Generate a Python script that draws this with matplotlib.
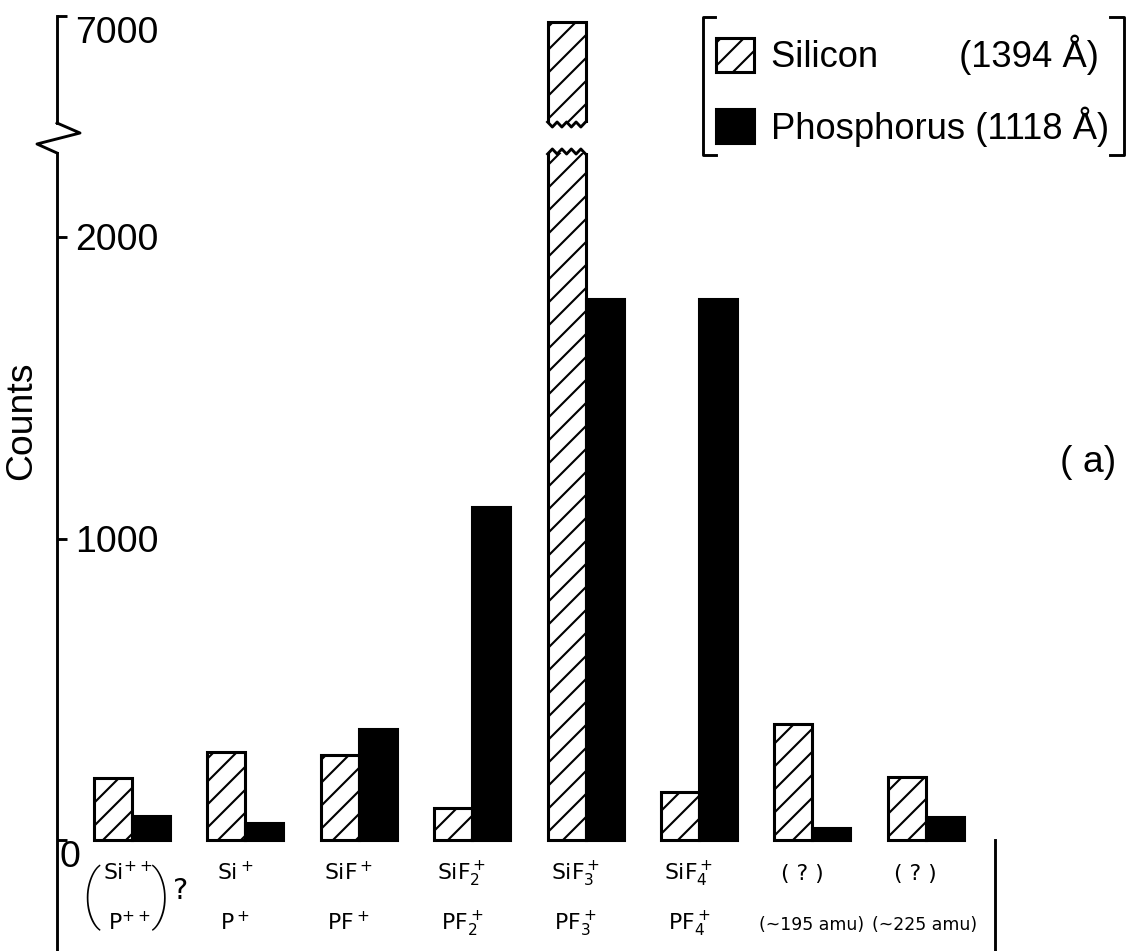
import numpy as np
import matplotlib
matplotlib.use("Agg")
import matplotlib.pyplot as plt
from matplotlib.patches import Patch
from matplotlib.lines import Line2D
from matplotlib import transforms

# ion species for each bar group (silicon row, phosphorus row)
ions_si = [r"Si$^{++}$", r"Si$^+$", r"SiF$^+$", r"SiF$_2^+$", r"SiF$_3^+$",
           r"SiF$_4^+$", "( ? )", "( ? )"]
ions_p = [r"P$^{++}$", r"P$^+$", r"PF$^+$", r"PF$_2^+$", r"PF$_3^+$",
          r"PF$_4^+$", "(~195 amu)", "(~225 amu)"]

# counts
silicon = [206, 292, 282, 106, 6980, 159, 385, 209]
phosphorus = [80, 56, 368, 1104, 1794, 1794, 40, 76]

low_ticks = [0, 1000, 2000]
high_ticks = [7000]

DPI = 138
W, H = 1127, 951
BIG = ["Liberation Sans", "DejaVu Sans"]
plt.rcParams["hatch.linewidth"] = 1.1


def px(x0, y0, x1, y1):
    return [x0 / W, 1 - y1 / H, (x1 - x0) / W, (y1 - y0) / H]


def fpt(x, y):
    return x / W, 1 - y / H


fig = plt.figure(figsize=(W / DPI, H / DPI), dpi=DPI)
ax_hi = fig.add_axes(px(57, 16, 995, 123))
ax = fig.add_axes(px(57, 153, 995, 951))

scale = 0.3015  # pixels per count
ax.set_ylim(-(951 - 840) / scale, (840 - 153) / scale)
ax_hi.set_ylim(7000 - (123 - 16) / scale, 7000)

x = np.arange(len(silicon))
w = 0.335
for a in (ax, ax_hi):
    a.bar(x - w / 2, silicon, w, facecolor="white", edgecolor="black",
          hatch="//", linewidth=1.6)
    a.bar(x + w / 2, phosphorus, w, color="black", edgecolor="black",
          linewidth=1.6)
    a.set_xlim(-0.661, 7.61)
    a.set_xticks([])
    a.tick_params(axis="y", direction="in", length=5.2, width=1.5,
                  pad=-9.4, labelsize=19.5)
    for s in ("top", "bottom", "right"):
        a.spines[s].set_visible(False)
    a.spines["left"].set_linewidth(1.5)

ax.spines["right"].set_visible(True)
ax.spines["right"].set_linewidth(1.5)
ax.spines["right"].set_bounds(ax.get_ylim()[0], 0)

ax.set_yticks(low_ticks)
ax_hi.set_yticks(high_ticks)
for a in (ax, ax_hi):
    for lbl in a.get_yticklabels():
        lbl.set_horizontalalignment("left")
        lbl.set_family(BIG)
ax.get_yticklabels()[0].set_verticalalignment("top")
ax_hi.get_yticklabels()[0].set_verticalalignment("top")
# the zero sits tucked against the spine, below its tick
ax.yaxis.get_major_ticks()[0].set_pad(-1.2)

ax.set_ylabel("Counts", fontsize=19.5, family=BIG)
ax.yaxis.set_label_coords(-0.019, 0.664)

# broken axis zigzag on the spine
zx = [57, 80, 37, 57]
zy = [123, 133, 144, 153]
fig.add_artist(Line2D([v / W for v in zx], [1 - v / H for v in zy],
                      color="black", lw=1.5, transform=fig.transFigure))

# jagged ends on the broken bar
k = int(np.argmax(silicon))
teeth = np.linspace(k - w, k, 9)
tr = transforms.blended_transform_factory(ax.transData, fig.transFigure)
amp = np.tile([0, 5], 5)[:9]
for yb, sgn in ((122, 1), (154, -1)):
    ax.add_line(Line2D(teeth, 1 - (yb + sgn * amp) / H, color="black", lw=1.5,
                       transform=tr, clip_on=False))

# category labels under each group
y1, y2 = -133, -299
for i in range(1, len(ions_si)):
    small = i >= 6
    ax.text(i - 0.09, y1, ions_si[i], ha="center", va="baseline",
            fontsize=11.5, clip_on=False)
    ax.text(i - 0.09 + (0.08 if small else 0), y2, ions_p[i], ha="center",
            va="baseline", fontsize=9 if small else 11.5, clip_on=False)
ax.text(-0.04, y1, ions_si[0], ha="center", va="baseline", fontsize=11.5)
ax.text(-0.02, y2, ions_p[0], ha="center", va="baseline", fontsize=11.5)
ax.text(-0.36, -192, "(", ha="center", va="center", fontsize=34,
        family="Roboto", fontweight="light")
ax.text(0.25, -192, ")", ha="center", va="center", fontsize=34,
        family="Roboto", fontweight="light")
ax.text(0.43, -170, "?", ha="center", va="center", fontsize=15)

# legend with bracket frame
handles = [Patch(facecolor="white", edgecolor="black", hatch="//", lw=1.6),
           Patch(facecolor="black", edgecolor="black", lw=1.6)]
labels = ["Silicon        (1394 Å)", "Phosphorus (1118 Å)"]
fig.legend(handles, labels, loc="upper left",
           bbox_to_anchor=fpt(716, 35), frameon=False,
           prop={"family": BIG, "size": 19}, handlelength=1.05,
           handleheight=1.05, handletextpad=0.45, labelspacing=0.85,
           borderpad=0, borderaxespad=0)
for bx, by in (([715, 703, 703, 716], [17, 17, 155, 155]),
               ([1110, 1124, 1124, 1110], [17, 17, 155, 155])):
    fig.add_artist(Line2D([v / W for v in bx], [1 - v / H for v in by],
                          color="black", lw=1.5, transform=fig.transFigure))

fig.text(*fpt(1088, 462), "( a)", ha="center", va="center", fontsize=19.5,
         family=BIG)

fig.savefig("out.png", dpi=DPI)
